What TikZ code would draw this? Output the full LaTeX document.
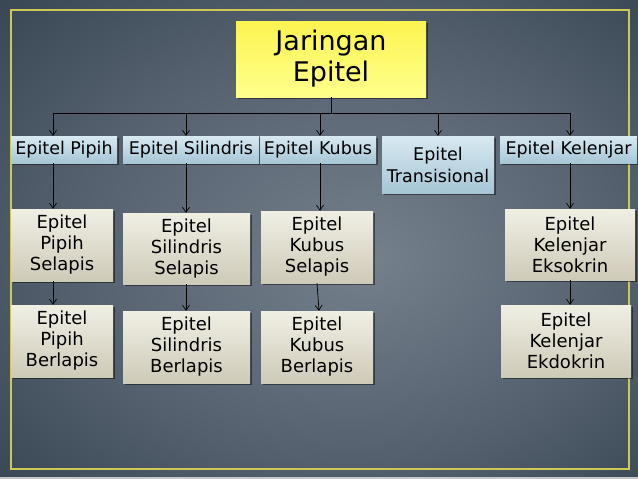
\documentclass[tikz,border=0pt]{standalone}
\usepackage{fontspec}
\setmainfont{DejaVu Sans}
\usetikzlibrary{arrows.meta,shadows}
\definecolor{bgc}{RGB}{116,128,139}
\definecolor{bgm}{RGB}{84,96,110}
\definecolor{bge}{RGB}{32,46,61}
\definecolor{frameyel}{RGB}{204,202,84}
\definecolor{yeltop}{RGB}{252,244,80}
\definecolor{yelbot}{RGB}{255,255,140}
\definecolor{bluetop}{RGB}{216,233,241}
\definecolor{bluebot}{RGB}{166,198,214}
\definecolor{beigetop}{RGB}{240,239,228}
\definecolor{beigebot}{RGB}{206,202,184}
\pgfdeclareradialshading{bgshade}{\pgfpoint{4bp}{-2bp}}{color(0bp)=(bgc); color(22bp)=(bgm); color(50bp)=(bge)}
\tikzset{
  boxbase/.style={rectangle, inner sep=0pt, align=center, text=black,
    drop shadow={shadow xshift=1.5pt, shadow yshift=-1.5pt, opacity=0.45, fill=black}},
  titlebox/.style={boxbase, top color=yeltop, bottom color=yelbot,
    font=\fontsize{27}{31}\selectfont},
  lvlone/.style={boxbase, top color=bluetop, bottom color=bluebot,
    font=\fontsize{17.5}{22}\selectfont},
  lvltwo/.style={boxbase, top color=beigetop, bottom color=beigebot,
    font=\fontsize{18}{21}\selectfont, minimum height=72pt},
  arr/.style={-{Straight Barb[length=5pt,width=7pt]}, line width=0.7pt, black},
  bus/.style={line width=0.8pt, black}
}
\begin{document}
\begin{tikzpicture}[x=1pt,y=-1pt]
\useasboundingbox (0,0) rectangle (638,479);
\shade[shading=bgshade] (0,0) rectangle (638,479);
\fill[gray!45] (0,477) rectangle (638,479);
\draw[frameyel, line width=1.8pt] (11,10) rectangle (629,469);

% top
\node[titlebox, minimum width=190pt, minimum height=76pt] (top) at (331,59) {Jaringan\\Epitel};

% level 1
\node[lvlone, minimum width=106pt, minimum height=27pt] (pipih) at (64,149.5) {Epitel Pipih};
\node[lvlone, minimum width=136pt, minimum height=27pt] (sil) at (191,149.5) {Epitel Silindris};
\node[lvlone, minimum width=116pt, minimum height=27pt] (kub) at (318,149.5) {Epitel Kubus};
\node[lvlone, minimum width=112pt, minimum height=57pt] (tra) at (438,164.5) {Epitel\\Transisional};
\node[lvlone, minimum width=137pt, minimum height=27pt] (kel) at (568.5,149.5) {Epitel Kelenjar};

% level 2
\node[lvltwo, minimum width=102pt] (ps) at (62,245) {Epitel\\Pipih\\Selapis};
\node[lvltwo, minimum width=102pt] (pb) at (62,341) {Epitel\\Pipih\\Berlapis};
\node[lvltwo, minimum width=127pt, minimum height=71pt] (ss) at (186.5,248.5) {Epitel\\Silindris\\Selapis};
\node[lvltwo, minimum width=127pt] (sb) at (186.5,347) {Epitel\\Silindris\\Berlapis};
\node[lvltwo, minimum width=112pt] (ks) at (317,247) {Epitel\\Kubus\\Selapis};
\node[lvltwo, minimum width=112pt] (kb) at (317,347) {Epitel\\Kubus\\Berlapis};
\node[lvltwo, minimum width=130pt, minimum height=71pt] (ke) at (570,244.5) {Epitel\\Kelenjar\\Eksokrin};
\node[lvltwo, minimum width=130pt] (kd) at (566,341) {Epitel\\Kelenjar\\Ekdokrin};

% connectors
\coordinate (c1) at (53,113);
\coordinate (c2) at (186,113);
\coordinate (c3) at (320,113);
\coordinate (c4) at (438,113);
\coordinate (c5) at (570,113);
\draw[bus] (top.south) -- (top.south |- c1);
\draw[bus] (c1) -- (c5);
\draw[arr] (c1) -- (c1 |- pipih.north);
\draw[arr] (c2) -- (c2 |- sil.north);
\draw[arr] (c3) -- (c3 |- kub.north);
\draw[arr] (c4) -- (c4 |- tra.north);
\draw[arr] (c5) -- (c5 |- kel.north);

\draw[arr] (pipih.south -| c1) -- (ps.north -| c1);
\draw[arr] (ps.south -| c1) -- (pb.north -| c1);
\draw[arr] (sil.south -| c2) -- (ss.north -| c2);
\draw[arr] (ss.south -| c2) -- (sb.north -| c2);
\draw[arr] (kub.south -| c3) -- (ks.north -| c3);
\draw[arr] (ks.south) -- ([xshift=2pt]kb.north);
\draw[arr] (kel.south -| c5) -- (ke.north -| c5);
\draw[arr] (ke.south -| c5) -- (kd.north -| c5);
\end{tikzpicture}
\end{document}
